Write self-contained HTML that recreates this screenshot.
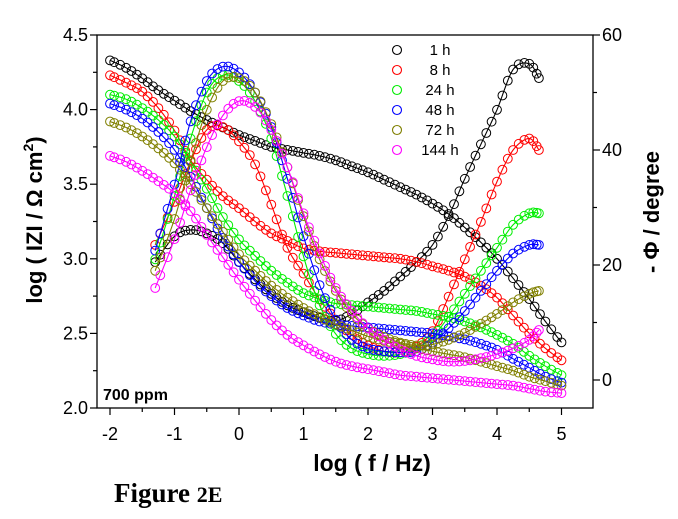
<!DOCTYPE html>
<html><head><meta charset="utf-8">
<style>
body{margin:0;background:#fff;}
svg text{font-family:"Liberation Sans",Arial,sans-serif;}
</style></head>
<body>
<svg id="chart" width="678" height="514" viewBox="0 0 678 514" xmlns="http://www.w3.org/2000/svg">
<rect x="0" y="0" width="678" height="514" fill="#fff"/>
<g id="plot"></g>
<g id="axes"></g>
<text x="103" y="400" font-size="16" font-weight="bold">700 ppm</text>
<text x="372" y="471" font-size="23" font-weight="bold" text-anchor="middle">log ( f / Hz)</text>
<text transform="translate(42,220) rotate(-90)" font-size="22" font-weight="bold" text-anchor="middle">log ( IZI / Ω cm<tspan font-size="14" dy="-9">2</tspan><tspan dy="9">)</tspan></text>
<text transform="translate(659,212) rotate(-90)" font-size="22" font-weight="bold" text-anchor="middle">- Φ / degree</text>
<text x="114" y="502" font-size="27" font-weight="bold" style="font-family:'Liberation Serif',serif">Figure <tspan font-size="22">2E</tspan></text>
</svg>
<script>
const seriesNames = ["1 h","8 h","24 h","48 h","72 h","144 h"];
const seriesColors = ["#000000","#ff0000","#00ee00","#0000ff","#808000","#ff00ff"];
const magX = [-2,-1.75,-1.5,-1.25,-1,-0.75,-0.5,-0.25,0,0.25,0.5,0.75,1,1.25,1.5,1.75,2,2.25,2.5,2.75,3,3.25,3.5,3.75,4,4.25,4.5,4.75,5];
const mag1h  = [4.33,4.28,4.21,4.13,4.06,3.99,3.93,3.88,3.83,3.79,3.75,3.73,3.71,3.69,3.66,3.62,3.58,3.53,3.48,3.43,3.37,3.30,3.21,3.11,3.00,2.87,2.73,2.58,2.44];
const mag8h  = [4.23,4.18,4.12,4.01,3.86,3.66,3.53,3.42,3.34,3.25,3.17,3.12,3.07,3.05,3.04,3.03,3.02,3.01,3.00,2.98,2.95,2.92,2.88,2.82,2.74,2.62,2.50,2.40,2.32];
const mag24h = [4.10,4.07,4.01,3.93,3.82,3.65,3.47,3.28,3.13,3.02,2.92,2.84,2.77,2.73,2.70,2.69,2.68,2.67,2.66,2.65,2.63,2.61,2.58,2.54,2.49,2.43,2.35,2.28,2.22];
const mag48h = [4.04,4.00,3.94,3.85,3.73,3.55,3.34,3.14,2.98,2.85,2.75,2.67,2.62,2.58,2.56,2.55,2.54,2.53,2.52,2.51,2.50,2.48,2.46,2.43,2.39,2.33,2.27,2.21,2.17];
const mag72h = [3.92,3.88,3.82,3.74,3.64,3.50,3.34,3.18,3.03,2.92,2.82,2.74,2.67,2.61,2.56,2.52,2.48,2.45,2.43,2.40,2.38,2.36,2.34,2.31,2.28,2.25,2.21,2.18,2.15];
const mag144h= [3.69,3.65,3.59,3.52,3.44,3.32,3.16,3.01,2.86,2.72,2.59,2.49,2.42,2.36,2.31,2.28,2.26,2.24,2.22,2.21,2.20,2.19,2.18,2.17,2.16,2.15,2.13,2.11,2.10];
const phaseX = [-1.3,-1,-0.75,-0.5,-0.25,0,0.25,0.5,0.75,1,1.25,1.5,1.75,2,2.25,2.5,2.75,3,3.25,3.5,3.75,4,4.25,4.5,4.65];
const ph1h  = [20.5,25,26.1,25.5,23.8,20.5,17.5,15,13,11.8,10.8,10.3,11.5,13.5,15.5,18,20.5,23.5,28.5,35,41,47,54,55,52.5];
const ph8h  = [23.5,31,38,43.5,44,41.5,37.5,30.5,23,18.5,14,10.5,7.8,6,5,4.8,5.8,8.5,14.5,21,27.5,34.5,40,42,40];
const ph24h = [21,32,42,50,53,52,48.5,42,32,21.5,13,8,5.5,4.5,4.2,4.5,5.5,7.5,11,15,19,23,27,29,29];
const ph48h = [22.5,34,45,52,54.5,53.5,50,44,35,25,16.5,10.5,7,5.5,5,4.8,5,6.5,9,12,15.5,19,22,23.5,23.5];
const ph72h = [19,28,38,47,52,52.5,50,44.5,37,28.5,21,15.5,11.5,9,7.5,6.5,6,6.2,7,8.2,9.8,11.5,13.5,15,15.5];
const ph144h= [16,24.5,33,40.5,46,48.5,47.5,43.5,37,29,22,16,12,9,7,5.3,4.2,3.6,3.2,3.3,3.8,4.5,5.5,7,8.7];
const magSeries = [mag1h,mag8h,mag24h,mag48h,mag72h,mag144h];
const phSeries = [ph1h,ph8h,ph24h,ph48h,ph72h,ph144h];
const xTicks = [-2,-1,0,1,2,3,4,5];
const yLeftTicks = ["2.0","2.5","3.0","3.5","4.0","4.5"];
const yRightTicks = [0,20,40,60];

const L=97,R=593,T=35,B=408;
const sx = v => 110 + (v+2)*64.5;
const syL = v => T + (4.5-v)*149.2;
const syR = v => 380 - v*5.75;
const NS="http://www.w3.org/2000/svg";
const plot=document.getElementById('plot'), axes=document.getElementById('axes');
function mk(tag,attrs,parent){const e=document.createElementNS(NS,tag);for(const k in attrs)e.setAttribute(k,attrs[k]);parent.appendChild(e);return e;}

function curve(xs,ys,stepsPer){
  const pts=[];
  for(let i=0;i<xs.length-1;i++){
    const p0=[xs[Math.max(i-1,0)],ys[Math.max(i-1,0)]],p1=[xs[i],ys[i]],p2=[xs[i+1],ys[i+1]],p3=[xs[Math.min(i+2,xs.length-1)],ys[Math.min(i+2,xs.length-1)]];
    for(let s=0;s<stepsPer;s++){
      const t=s/stepsPer,t2=t*t,t3=t2*t;
      const f=(a,b,c,d)=>0.5*((2*b)+(-a+c)*t+(2*a-5*b+4*c-d)*t2+(-a+3*b-3*c+d)*t3);
      pts.push([f(p0[0],p1[0],p2[0],p3[0]),f(p0[1],p1[1],p2[1],p3[1])]);
    }
  }
  pts.push([xs[xs.length-1],ys[ys.length-1]]);
  return pts;
}
function drawSeries(xs,ys,sy,color,name){
  const g=mk('g',{},plot);
  
  
  const line=curve(xs,ys,10);
  const p=mk('path',{d:'M'+line.map(q=>sx(q[0]).toFixed(1)+','+sy(q[1]).toFixed(1)).join('L'),fill:'none',stroke:color,'stroke-width':1.1},g);
  
  
  const mks=curve(xs,ys,3);
  mks.forEach(q=>{
    const c=mk('circle',{cx:sx(q[0]).toFixed(1),cy:sy(q[1]).toFixed(1),r:4.4,fill:'none',stroke:color,'stroke-width':1},g);
    
    
  });
}
for(let i=0;i<6;i++){
  drawSeries(magX,magSeries[i],syL,seriesColors[i],'impedance-'+seriesNames[i].replace(' ',''));
  drawSeries(phaseX,phSeries[i],syR,seriesColors[i],'phase-'+seriesNames[i].replace(' ',''));
}
const fr=mk('rect',{x:L,y:T,width:R-L,height:B-T,fill:'none',stroke:'#000','stroke-width':1.3},axes);


xTicks.forEach(v=>{
  mk('line',{x1:sx(v),x2:sx(v),y1:B,y2:B+7,stroke:'#000','stroke-width':1.2},axes);
  if(v<5) mk('line',{x1:sx(v+0.5),x2:sx(v+0.5),y1:B,y2:B+4,stroke:'#000','stroke-width':1.2},axes);
  const t=mk('text',{x:sx(v),y:B+32,'font-size':18,'text-anchor':'middle'},axes);t.textContent=v;
  
  
});
yLeftTicks.forEach(s=>{
  const v=parseFloat(s);
  mk('line',{x1:L-7,x2:L,y1:syL(v),y2:syL(v),stroke:'#000','stroke-width':1.2},axes);
  if(v<4.5) mk('line',{x1:L-4,x2:L,y1:syL(v+0.25),y2:syL(v+0.25),stroke:'#000','stroke-width':1.2},axes);
  const t=mk('text',{x:L-9,y:syL(v)+6,'font-size':18,'text-anchor':'end'},axes);t.textContent=s;
  
  
});
yRightTicks.forEach(v=>{
  mk('line',{x1:R,x2:R+7,y1:syR(v),y2:syR(v),stroke:'#000','stroke-width':1.2},axes);
  if(v<60) mk('line',{x1:R,x2:R+4,y1:syR(v+10),y2:syR(v+10),stroke:'#000','stroke-width':1.2},axes);
  const t=mk('text',{x:R+9,y:syR(v)+6,'font-size':18,'text-anchor':'start'},axes);t.textContent=v;
  
  
});
seriesNames.forEach((n,i)=>{
  const y=50+i*20;
  const g=mk('g',{},axes);
  
  
  mk('circle',{cx:397,cy:y,r:4.5,fill:'none',stroke:seriesColors[i],'stroke-width':1.1},g);
  const t=mk('text',{x:440,y:y+5,'font-size':15,'text-anchor':'middle'},g);t.textContent=n;
});
</script>
</body></html>
